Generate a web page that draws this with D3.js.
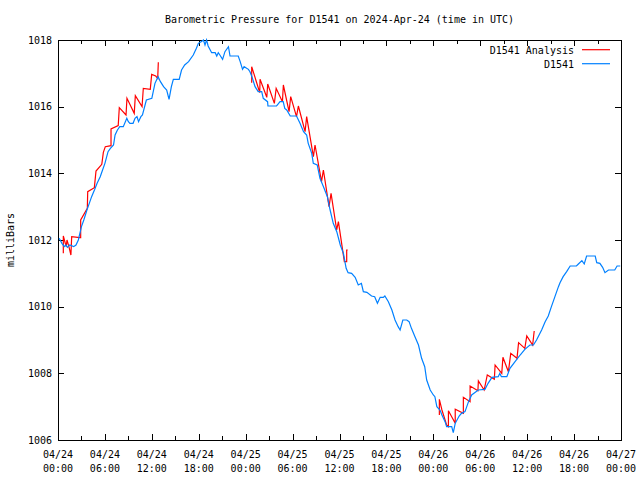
<!DOCTYPE html>
<html><head><meta charset="utf-8">
<script src="https://cdn.jsdelivr.net/npm/d3@7"></script>
<style>body{margin:0;background:#fff}svg{display:block}text{font-family:"DejaVu Sans Mono",monospace;font-size:10px;fill:#000}</style>
</head><body><svg id="c" width="640" height="480"></svg>
<script>
const title = "Barometric Pressure for D1541 on 2024-Apr-24 (time in UTC)";
const yLabel = "milliBars";
const seriesNames = ["D1541 Analysis", "D1541"];
const seriesColors = ["#ff0000", "#0080ff"];
const startTime = Date.UTC(2024, 3, 24, 0, 0);
const yTicks = [1006, 1008, 1010, 1012, 1014, 1016, 1018];
const xTickHours = [0, 6, 12, 18, 24, 30, 36, 42, 48, 54, 60, 66, 72];
const xTickLabels = ["04/24\n00:00","04/24\n06:00","04/24\n12:00","04/24\n18:00","04/25\n00:00","04/25\n06:00","04/25\n12:00","04/25\n18:00","04/26\n00:00","04/26\n06:00","04/26\n12:00","04/26\n18:00","04/27\n00:00"];

// Observed (blue): hours since start, pressure
const obsHours = [0.15,0.5,0.8,1.0,1.2,1.5,2.0,2.3,2.6,3.0,3.3,3.7,4.0,4.3,4.7,5.0,5.4,5.7,6.0,6.4,6.7,7.1,7.3,7.6,7.9,8.35,8.8,9.0,9.2,9.6,9.85,10.1,10.3,10.6,10.8,11.3,12.0,12.4,12.8,13.1,13.5,13.9,14.2,14.5,14.75,15.5,15.8,16.2,16.7,17.3,17.7,17.95,18.3,18.6,18.8,19.0,19.2,19.65,20.1,20.3,20.5,20.7,21.05,21.35,21.8,22.0,23.05,23.3,23.6,23.8,24.35,24.55,24.8,25.2,25.6,26.05,26.25,26.8,26.85,27.95,28.4,28.8,29.0,29.25,29.7,30.5,30.95,31.4,31.8,32.0,32.45,32.65,33.15,33.5,33.95,34.45,34.8,35.2,35.65,36.1,36.5,36.85,37.1,37.55,38.0,38.4,38.8,39.05,39.5,40.1,40.5,40.85,41.2,41.6,41.8,42.25,42.7,43.1,43.5,43.75,44.1,44.6,44.9,45.2,45.65,46.1,46.5,46.9,47.15,47.6,48.0,48.2,48.45,48.85,49.1,49.5,49.7,50.1,50.35,50.55,50.8,51.3,51.6,52.05,52.5,52.9,53.75,54.6,55.0,55.5,56.3,56.5,56.7,57.4,57.8,58.45,59.1,59.7,60.35,60.8,61.2,61.85,62.3,62.7,63.1,63.55,64.0,64.2,64.6,65.05,65.5,66.3,66.55,67.0,67.3,67.6,68.7,68.9,69.3,69.65,69.95,70.4,71.2,71.5,71.9];
const obsValues = [1012.05,1011.9,1011.8,1011.85,1011.78,1011.85,1011.8,1011.85,1012.0,1012.4,1012.6,1012.9,1013.1,1013.3,1013.52,1013.7,1013.9,1014.1,1014.3,1014.65,1014.75,1014.85,1015.15,1015.3,1015.4,1015.4,1015.65,1015.55,1015.5,1015.5,1015.65,1015.7,1015.55,1015.7,1015.75,1016.2,1016.25,1016.7,1016.9,1016.75,1016.6,1016.5,1016.22,1016.6,1016.82,1016.82,1017.1,1017.25,1017.35,1017.55,1017.75,1017.9,1017.95,1018.0,1017.85,1018.0,1017.82,1017.62,1017.62,1017.52,1017.62,1017.55,1017.42,1017.65,1017.8,1017.52,1017.52,1017.35,1017.12,1017.2,1017.12,1017.05,1016.9,1016.6,1016.45,1016.45,1016.25,1016.15,1016.02,1016.02,1016.15,1016.15,1015.95,1015.9,1015.72,1015.72,1015.5,1015.25,1015.15,1014.9,1014.6,1014.3,1014.25,1013.85,1013.6,1013.3,1012.9,1012.5,1012.25,1011.85,1011.6,1011.15,1011.02,1011.0,1010.88,1010.65,1010.7,1010.45,1010.43,1010.32,1010.3,1010.1,1010.28,1010.28,1010.32,1010.15,1009.9,1009.6,1009.4,1009.3,1009.6,1009.6,1009.55,1009.35,1009.1,1008.85,1008.45,1008.2,1007.8,1007.5,1007.35,1007.3,1007.0,1006.9,1006.75,1006.55,1006.4,1006.4,1006.4,1006.22,1006.5,1006.72,1006.8,1006.85,1007.15,1007.35,1007.5,1007.52,1007.7,1007.88,1007.9,1008.0,1007.9,1007.9,1008.15,1008.35,1008.55,1008.72,1008.85,1008.85,1009.0,1009.3,1009.55,1009.72,1010.0,1010.3,1010.6,1010.72,1010.9,1011.05,1011.22,1011.22,1011.28,1011.38,1011.28,1011.52,1011.52,1011.32,1011.3,1011.18,1011.02,1011.1,1011.1,1011.22,1011.22];

// Analysis (red): hours since start, pressure (null = gap between windows)
const anaHours = [0.68,0.68,1.05,1.15,1.45,1.65,1.75,2.8,2.9,2.9,3.75,3.8,4.65,4.86,5.6,5.8,6.05,6.78,6.78,7.7,7.84,8.7,8.82,9.75,9.89,10.75,10.91,11.8,11.98,12.5,12.75,12.83,
  null,
  24.77,24.77,25.8,25.84,26.7,26.82,27.67,27.9,28.7,28.82,29.55,29.76,30.5,30.74,31.6,31.8,32.66,32.87,33.7,33.94,34.66,34.92,35.64,35.86,36.62,36.92,36.92,37.05,
  null,
  48.77,48.77,49.05,49.1,49.7,49.93,49.93,50.8,50.8,51.84,51.84,52.7,52.7,53.7,53.76,54.5,54.9,55.8,55.9,56.75,56.9,57.6,57.9,58.7,58.9,59.7,59.95,60.7,60.9];
const anaValues = [1011.6,1012.12,1011.8,1012.0,1011.75,1011.55,1012.1,1012.07,1012.07,1012.6,1012.95,1013.45,1013.57,1014.07,1014.27,1014.63,1014.8,1014.83,1015.33,1015.43,1015.97,1015.75,1016.25,1015.8,1016.33,1016.0,1016.55,1016.52,1016.97,1016.92,1016.85,1017.33,
  null,
  1016.72,1017.2,1016.42,1016.82,1016.28,1016.68,1016.1,1016.55,1016.15,1016.65,1015.85,1016.3,1015.7,1016.02,1015.25,1015.7,1014.5,1014.85,1013.75,1014.1,1013.0,1013.4,1012.3,1012.55,1011.35,1011.35,1011.7,1011.7,
  null,
  1006.75,1007.22,1006.95,1006.9,1006.45,1006.4,1006.88,1006.5,1006.92,1006.8,1007.28,1007.15,1007.62,1007.48,1007.77,1007.5,1007.95,1007.82,1008.25,1008.0,1008.48,1008.05,1008.6,1008.45,1008.92,1008.75,1009.12,1008.85,1009.27];

const svg = d3.select("#c");
const L = 58, R = 621, T = 40, B = 440;
const toDate = h => new Date(startTime + h * 3600e3);
const x = d3.scaleUtc().domain([toDate(0), toDate(72)]).range([L, R]);
const y = d3.scaleLinear().domain([1006, 1018]).range([B, T]);

// ticks every 3h, mirrored on top, all inward
const tickHours = d3.range(0, 73, 3);
const g = svg.append("g").attr("shape-rendering", "crispEdges");
tickHours.forEach(h => {
  const xx = Math.round(x(toDate(h))) + 0.5;
  const len = (h % 6 === 0) ? 6 : 4;
  g.append("line").attr("x1", xx).attr("x2", xx).attr("y1", B).attr("y2", B - len).attr("stroke", "#000");
  g.append("line").attr("x1", xx).attr("x2", xx).attr("y1", T).attr("y2", T + len).attr("stroke", "#000");
});
yTicks.forEach(v => {
  const yy = Math.round(y(v)) + 0.5;
  g.append("line").attr("x1", L).attr("x2", L + 6).attr("y1", yy).attr("y2", yy).attr("stroke", "#000");
  g.append("line").attr("x1", R).attr("x2", R - 6).attr("y1", yy).attr("y2", yy).attr("stroke", "#000");
  svg.append("text").attr("x", L - 6).attr("y", y(v)).attr("dy", "0.35em").attr("text-anchor", "end").text(v);
});
xTickHours.forEach((h, i) => {
  const parts = xTickLabels[i].split("\n");
  const t = svg.append("text").attr("text-anchor", "middle").attr("x", x(toDate(h))).attr("y", 458);
  t.append("tspan").attr("x", x(toDate(h))).text(parts[0]);
  t.append("tspan").attr("x", x(toDate(h))).attr("dy", 14).text(parts[1]);
});

// series
const line = d3.line().defined((d) => d[0] !== null && d[1] !== null)
  .x(d => x(toDate(d[0]))).y(d => y(d[1]));
const anaData = anaHours.map((h, i) => [h, anaValues[i]]);
const obsData = obsHours.map((h, i) => [h, obsValues[i]]);
svg.append("path").datum(anaData).attr("d", line).attr("fill", "none").attr("stroke", seriesColors[0]).attr("stroke-width", 1.2);
svg.append("path").datum(obsData).attr("d", line).attr("fill", "none").attr("stroke", seriesColors[1]).attr("stroke-width", 1.2);

// border
g.append("rect").attr("x", L + 0.5).attr("y", T + 0.5).attr("width", R - L).attr("height", B - T).attr("fill", "none").attr("stroke", "#000");

// title & labels
svg.append("text").attr("x", (L + R) / 2).attr("y", 23).attr("text-anchor", "middle").text(title);
svg.append("text").attr("transform", "translate(14,240) rotate(-90)").attr("text-anchor", "middle").text(yLabel);

// legend
seriesNames.forEach((n, i) => {
  const ly = 50 + i * 14;
  svg.append("text").attr("x", 574).attr("y", ly).attr("dy", "0.35em").attr("text-anchor", "end").text(n);
  svg.append("path").attr("d", `M582,${ly - 0.3}L610,${ly - 0.3}`)
    .attr("fill", "none").attr("stroke", seriesColors[i]).attr("stroke-width", 1.2);
});
</script></body></html>
